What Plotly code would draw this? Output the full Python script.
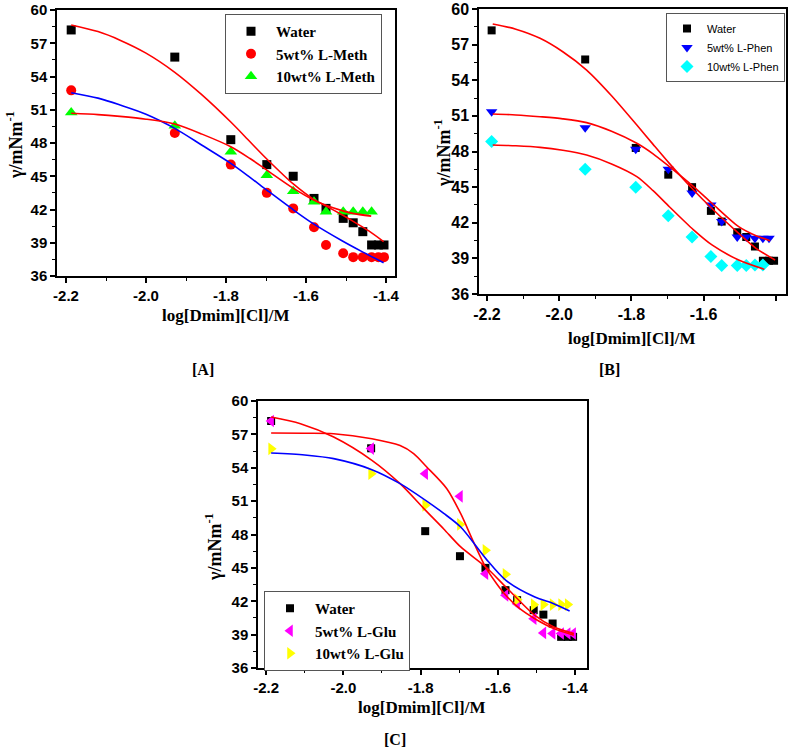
import plotly.graph_objects as go

# ---------------- data ----------------
log_conc = [-2.187, -1.928, -1.788, -1.698, -1.632, -1.580, -1.550, -1.507, -1.482, -1.458, -1.436, -1.419, -1.405]

water = [58.2, 55.75, 48.3, 46.05, 45.0, 43.0, 42.1, 41.2, 40.8, 40.0, 38.8, 38.8, 38.8]

meth5 = [52.75, 48.9, 46.05, 43.5, 42.1, 40.4, 38.8, 38.05, 37.7, 37.7, 37.7, 37.7, 37.7]
meth10 = [50.75, 49.55, 47.2, 45.1, 43.65, 42.7, 41.8, 41.8, 41.8, 41.8, 41.8]

phen5 = [51.35, 50.0, 48.2, 46.5, 44.5, 43.5, 42.1, 40.8, 40.8, 40.7, 40.7, 40.7]
phen10 = [48.85, 46.5, 45.0, 42.6, 40.8, 39.15, 38.4, 38.4, 38.4, 38.45, 38.45]

glu5 = [58.2, 55.72, 53.47, 51.43, 44.48, 42.53, 41.78, 40.43, 39.15, 39.1, 39.1, 39.1, 39.1]
glu10 = [55.7, 53.47, 50.62, 48.91, 46.58, 44.42, 42.14, 41.69, 41.7, 41.69, 41.7, 41.7]

# fitted curves
fitA_x = [-2.187, -2.12, -2.065, -2.0, -1.928, -1.86, -1.788, -1.74, -1.698, -1.631, -1.581, -1.552, -1.51, -1.483, -1.443, -1.406]
fitA_water = [58.65, 58.05, 57.28, 56.11, 54.38, 52.34, 49.89, 48.11, 46.56, 44.28, 42.92, 42.36, 41.52, 40.95, 40.07, 39.1]
fitA_m5_x = [-2.187, -2.12, -2.065, -2.0, -1.928, -1.86, -1.788, -1.74, -1.698, -1.631, -1.581, -1.51, -1.46, -1.406]
fitA_m5 = [52.54, 52.05, 51.43, 50.6, 49.32, 47.8, 46.16, 44.9, 43.75, 41.95, 40.7, 39.18, 38.2, 37.2]
fitA_m10_x = [-2.187, -2.12, -2.065, -2.0, -1.928, -1.86, -1.788, -1.74, -1.698, -1.631, -1.581, -1.552, -1.51, -1.483, -1.437]
fitA_m10 = [50.68, 50.56, 50.4, 50.15, 49.71, 48.8, 47.66, 46.6, 45.56, 43.9, 42.85, 42.4, 41.9, 41.65, 41.4]

fitB_x = [-2.184, -2.12, -2.053, -1.99, -1.924, -1.855, -1.785, -1.74, -1.695, -1.628, -1.577, -1.503, -1.455, -1.402]
fitB_water = [58.74, 58.3, 57.53, 56.4, 54.86, 52.7, 50.23, 48.6, 47.0, 44.76, 43.2, 41.1, 39.85, 38.86]
fitB_p5_x = [-2.184, -2.12, -2.053, -1.99, -1.924, -1.855, -1.785, -1.74, -1.695, -1.628, -1.577, -1.503, -1.455, -1.416]
fitB_p5 = [51.16, 51.08, 50.93, 50.75, 50.43, 49.7, 48.69, 47.8, 46.72, 45.04, 43.64, 41.67, 40.91, 40.49]
fitB_p10_x = [-2.184, -2.12, -2.053, -1.99, -1.924, -1.855, -1.785, -1.74, -1.695, -1.628, -1.577, -1.503, -1.432]
fitB_p10 = [48.55, 48.48, 48.35, 48.1, 47.7, 46.95, 45.88, 44.7, 43.35, 41.4, 40.13, 38.86, 38.08]

fitC_water_x = [-2.187, -2.111, -2.025, -1.926, -1.853, -1.787, -1.74, -1.696, -1.631, -1.579, -1.504, -1.455, -1.403]
fitC_water = [58.56, 57.96, 56.76, 54.67, 52.57, 50.17, 48.5, 46.88, 45.08, 43.28, 40.73, 39.69, 39.09]
fitC_g5_x = [-2.187, -2.1, -2.025, -1.926, -1.853, -1.818, -1.784, -1.732, -1.696, -1.663, -1.631, -1.603, -1.579, -1.543, -1.504, -1.455, -1.403]
fitC_g5 = [57.12, 57.1, 57.06, 56.61, 55.99, 55.27, 54.07, 52.12, 49.87, 47.33, 45.02, 43.58, 42.53, 41.33, 40.43, 39.54, 38.94]
fitC_g10_x = [-2.187, -2.1, -2.025, -1.926, -1.853, -1.787, -1.74, -1.696, -1.631, -1.579, -1.504, -1.455, -1.414]
fitC_g10 = [55.33, 55.15, 54.82, 53.83, 52.57, 51.07, 49.9, 48.67, 45.83, 43.88, 42.38, 41.78, 41.12]

x_ticks = [-2.2, -2.0, -1.8, -1.6, -1.4]
x_ticktext = ["-2.2", "-2.0", "-1.8", "-1.6", "-1.4"]
y_ticks = [36, 39, 42, 45, 48, 51, 54, 57, 60]
y_ticktext = ["36", "39", "42", "45", "48", "51", "54", "57", "60"]

# ---------------- figure ----------------
W, H = 789, 751
RED, BLUE = "#ff0000", "#0000ff"
fig = go.Figure()

def fx(rx):
    return rx / W

def fy(ry):
    return 1 - ry / H

def pts(xs, ys, name, sym, col, size, xa, ya, leg):
    fig.add_trace(go.Scatter(x=xs[:len(ys)], y=ys, mode="markers", name=name,
                             marker=dict(symbol=sym, color=col, size=size, line=dict(width=0)),
                             xaxis=xa, yaxis=ya, legend=leg, showlegend=True))

def fit(xs, ys, col, xa, ya):
    fig.add_trace(go.Scatter(x=xs, y=ys, mode="lines",
                             line=dict(color=col, width=1.6, shape="spline", smoothing=0.8),
                             xaxis=xa, yaxis=ya, showlegend=False, hoverinfo="skip"))

# Panel A
pts(log_conc, water, "Water", "square", "#000000", 9, "x", "y", "legend")
pts(log_conc, meth5, "5wt% L-Meth", "circle", RED, 10, "x", "y", "legend")
pts(log_conc, meth10, "10wt% L-Meth", "triangle-up", "#00ff00", 11, "x", "y", "legend")
fit(fitA_x, fitA_water, RED, "x", "y")
fit(fitA_m5_x, fitA_m5, BLUE, "x", "y")
fit(fitA_m10_x, fitA_m10, RED, "x", "y")

# Panel B
pts(log_conc, water, "Water", "square", "#000000", 8, "x2", "y2", "legend2")
pts(log_conc, phen5, "5wt% L-Phen", "triangle-down", BLUE, 10, "x2", "y2", "legend2")
pts(log_conc, phen10, "10wt% L-Phen", "diamond", "#00ffff", 10, "x2", "y2", "legend2")
fit(fitB_x, fitB_water, RED, "x2", "y2")
fit(fitB_p5_x, fitB_p5, RED, "x2", "y2")
fit(fitB_p10_x, fitB_p10, RED, "x2", "y2")

# Panel C
pts(log_conc, water, "Water", "square", "#000000", 8, "x3", "y3", "legend3")
pts(log_conc, glu5, "5wt% L-Glu", "triangle-left", "#ff00ff", 11, "x3", "y3", "legend3")
pts(log_conc, glu10, "10wt% L-Glu", "triangle-right", "#ffff00", 11, "x3", "y3", "legend3")
fit(fitC_water_x, fitC_water, RED, "x3", "y3")
fit(fitC_g5_x, fitC_g5, RED, "x3", "y3")
fit(fitC_g10_x, fitC_g10, BLUE, "x3", "y3")

SANS = "Liberation Sans, Arial, sans-serif"
SERIF = "Liberation Serif, Times New Roman, serif"

def bold(lst):
    return ["<b>%s</b>" % t for t in lst]

def xax(left, right, rng, anchor, size):
    return dict(domain=[fx(left), fx(right)], range=rng, anchor=anchor, tickvals=x_ticks, ticktext=bold(x_ticktext),
                showgrid=False, zeroline=False, showline=True, linecolor="black", linewidth=1.5,
                mirror=True, ticks="outside", ticklen=5, tickwidth=1.5, tickcolor="black", automargin=False,
                minor=dict(dtick=0.1, tick0=-2.2, ticks="outside", ticklen=3, tickwidth=1.2, tickcolor="black"),
                tickfont=dict(family=SANS, size=size, color="black"), fixedrange=True)

def yax(top, bot, anchor, size):
    return dict(domain=[fy(bot), fy(top)], range=[36, 60], anchor=anchor, tickvals=y_ticks, ticktext=bold(y_ticktext),
                showgrid=False, zeroline=False, showline=True, linecolor="black", linewidth=1.5,
                mirror=True, ticks="outside", ticklen=5, tickwidth=1.5, tickcolor="black", automargin=False,
                minor=dict(dtick=1.5, tick0=36, ticks="outside", ticklen=3, tickwidth=1.2, tickcolor="black"),
                tickfont=dict(family=SANS, size=size, color="black"), fixedrange=True)

leg_common = dict(bgcolor="white", bordercolor="#555555", borderwidth=1, xanchor="left", yanchor="top",
                  tracegroupgap=0, xref="paper", yref="paper")

fig.update_layout(
    width=W, height=H, autosize=False,
    margin=dict(l=0, r=0, t=0, b=0, autoexpand=False),
    paper_bgcolor="white", plot_bgcolor="white",
    xaxis=xax(57, 395, [-2.2225, -1.3775], "y", 15),
    yaxis=yax(10, 276, "x", 15),
    xaxis2=xax(479, 786, [-2.222, -1.372], "y2", 16),
    yaxis2=yax(9, 294, "x2", 16),
    xaxis3=xax(258, 587, [-2.221, -1.369], "y3", 15),
    yaxis3=yax(401, 668, "x3", 15),
    legend=dict(x=fx(225), y=fy(14), itemwidth=40,
                font=dict(family=SERIF, size=15, color="black", weight="bold"), **leg_common),
    legend2=dict(x=fx(666), y=fy(13), itemwidth=30,
                 font=dict(family=SANS, size=11, color="black"), **leg_common),
    legend3=dict(x=fx(264), y=fy(591), itemwidth=40,
                 font=dict(family=SERIF, size=15, color="black", weight="bold"), **leg_common),
    showlegend=True,
)

def label(x, y, text, size=16, angle=0):
    fig.add_annotation(x=fx(x), y=fy(y), xref="paper", yref="paper", text="<b>%s</b>" % text,
                       showarrow=False, textangle=angle, xanchor="center", yanchor="middle",
                       font=dict(family=SERIF, size=size, color="black"))

xt = "log[Dmim][Cl]/M"
yt = "γ/mNm<sup>-1</sup>"
label(225, 315, xt, 17)
label(631, 338, xt, 17)
label(421, 707, xt, 17)
label(14, 145, yt, 18, -90)
label(442, 153, yt, 18, -90)
label(213, 547, yt, 18, -90)
label(203, 369, "[A]", 16)
label(609, 369, "[B]", 16)
label(395, 739, "[C]", 16)

# remove the default page margin so the figure fills the window exactly
fig.write_html("out.html",
               config={"displayModeBar": False},
               post_script="document.body.style.margin='0px';document.body.style.padding='0px';"
                           "document.documentElement.style.overflow='hidden';")
